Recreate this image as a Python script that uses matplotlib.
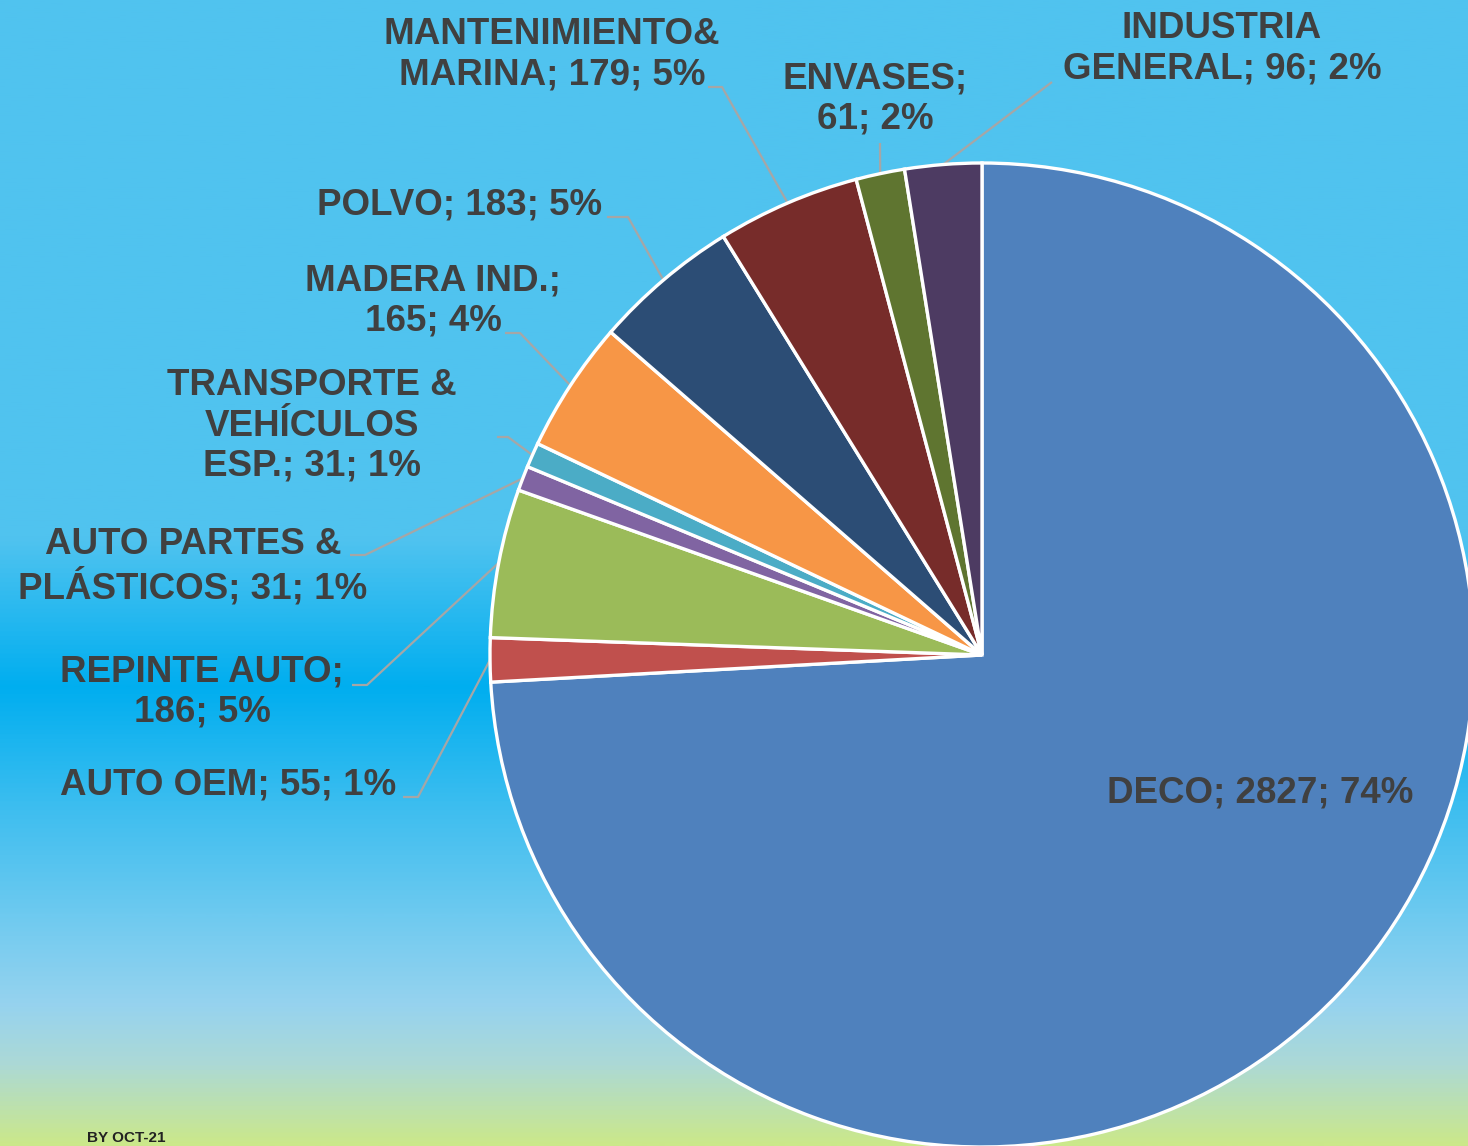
import numpy as np
import matplotlib
matplotlib.use("Agg")
import matplotlib.pyplot as plt
from matplotlib.colors import LinearSegmentedColormap

W, H = 1468, 1146

categories = ["DECO", "AUTO OEM", "REPINTE AUTO", "AUTO PARTES & PLÁSTICOS",
              "TRANSPORTE & VEHÍCULOS ESP.", "MADERA IND.", "POLVO",
              "MANTENIMIENTO& MARINA", "ENVASES", "INDUSTRIA GENERAL"]
values = [2827, 55, 186, 31, 31, 165, 183, 179, 61, 96]
percents = [74, 1, 5, 1, 1, 4, 5, 5, 2, 2]
colors = ["#4F81BD", "#C0504D", "#9BBB59", "#8064A2", "#4BACC6",
          "#F79646", "#2C4D75", "#772C2A", "#5F7530", "#4D3B62"]
# label text lines (name part), as wrapped in the original
label_names = ["DECO", "AUTO OEM", "REPINTE AUTO;\n", "AUTO PARTES &\nPLÁSTICOS",
               "TRANSPORTE &\nVEHÍCULOS\nESP.", "MADERA IND.;\n", "POLVO",
               "MANTENIMIENTO&\nMARINA", "ENVASES;\n", "INDUSTRIA\nGENERAL"]

# layout: label centres and leader elbow points (pixel coords, y down)
label_pos = [(1260, 793), (228, 785), (202, 692), (193, 567), (312, 426),
             (433, 301), (460, 205), (552, 55), (875, 99), (1222, 49)]
leader = [None, (403, 797, 418), (352, 685, 367), (350, 555, 365), (497, 437, 508),
          (505, 333, 520), (607, 217, 628), (708, 87, 722), (880, 143, 880), (1052, 82, 1052)]

CX, CY, R = 982, 655, 492

fig = plt.figure(figsize=(W / 100, H / 100), dpi=100)

# background gradient
bg = fig.add_axes([0, 0, 1, 1])
bg.set_axis_off()
stops = [(0.0, "#50C3EF"), (0.47, "#50C3EF"), (0.60, "#00AEEF"), (0.70, "#3ABDEF"),
         (0.80, "#6ECAF0"), (0.88, "#97D3EE"), (0.93, "#ACD9D6"), (1.0, "#CBE88A")]
cmap = LinearSegmentedColormap.from_list("bg", stops)
grad = np.linspace(0, 1, 512).reshape(-1, 1)
bg.imshow(grad, aspect="auto", cmap=cmap, extent=[0, 1, 0, 1], origin="upper")
bg.set_xlim(0, 1)
bg.set_ylim(0, 1)

ax = fig.add_axes([0, 0, 1, 1])
ax.set_axis_off()
ax.patch.set_alpha(0)

wedges, _ = ax.pie(values, colors=colors, startangle=90, counterclock=False,
                   radius=R, center=(CX, H - CY),
                   wedgeprops=dict(edgecolor="white", linewidth=2.4))
ax.set_xlim(0, W)
ax.set_ylim(0, H)
ax.set_aspect("equal")

font = dict(family="Liberation Sans", weight="bold", size=26.5, color="#404040")
for i, w in enumerate(wedges):
    name = label_names[i]
    if name.endswith(";\n"):
        text = f"{name}{values[i]}; {percents[i]}%"
    else:
        text = f"{name}; {values[i]}; {percents[i]}%"
    lx, ly = label_pos[i]
    ax.text(lx, H - ly, text, ha="center", va="center", linespacing=1.2, **font)
    if leader[i] is not None:
        mid = np.deg2rad((w.theta1 + w.theta2) / 2)
        ex = CX + R * np.cos(mid)
        ey = (H - CY) + R * np.sin(mid)
        x0, y0, x1 = leader[i]
        ax.plot([x0, x1, ex], [H - y0, H - y0, ey], color="#A6A6A6", lw=1.6,
                solid_capstyle="butt", zorder=0.5)

fig.text(87 / W, 1 / H, "BY OCT-21", ha="left", va="bottom",
         family="Liberation Sans", weight="bold", size=11, color="#222222")

fig.savefig("out.png", dpi=100)
